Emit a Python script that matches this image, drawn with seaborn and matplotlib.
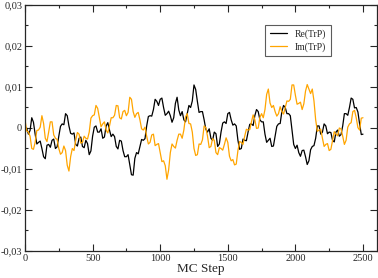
import numpy as np
import pandas as pd
import matplotlib
matplotlib.use('Agg')
import matplotlib.pyplot as plt
import seaborn as sns
from matplotlib.ticker import MultipleLocator, FuncFormatter

# MC steps (read every 12.5 steps)
steps = [i * 12.5 for i in range(201)]

# Re(TrP), units of 1e-3
re_trp = [-1.0, 0.0, -1.5, -0.6, 2.5, 1.4, -1.5, -3.9, -3.5, -3.2,
          -5.0, -7.0, -7.5, -4.2, -4.0, -4.7, -3.0, -2.7, -5.0, -4.6,
          -2.0, 0.4, 1.0, 0.8, 3.5, 3.0, 0.5, -1.3, -1.5, -1.2,
          -4.0, -4.4, -2.5, -2.2, -4.5, -4.8, -3.0, -3.8, -6.5, -5.6,
          -2.0, 0.2, 0.5, -1.0, -1.0, -0.2, -2.5, -2.2, 0.5, 1.3,
          -0.5, -2.1, -1.5, -2.1, -4.5, -5.1, -3.0, -3.2, -5.5, -7.0,
          -7.0, -6.5, -9.0, -11.4, -11.5, -7.4, -6.0, -6.3, -4.5, -2.8,
          -3.0, -2.6, 0.5, 2.8, 3.0, 2.9, 4.5, 7.0, 6.5, 5.5,
          7.0, 7.3, 5.0, 3.1, 3.5, 4.1, 3.0, 1.4, 2.5, 6.0,
          7.5, 4.4, 3.0, 4.0, 2.0, 1.5, 3.5, 5.5, 5.0, 6.6,
          10.5, 9.4, 6.5, 3.8, 4.0, 4.0, 2.0, -0.3, -1.0, -0.2,
          -2.5, -3.0, -1.0, -1.4, -4.5, -3.9, -1.0, 1.2, 1.5, 1.1,
          3.5, 3.8, 2.0, 0.7, 1.0, 0.5, -3.0, -5.2, -5.0, -2.7,
          -3.0, -3.1, -1.0, 0.9, 1.0, 0.6, 3.0, 4.5, 4.0, 2.0,
          1.5, 1.5, -1.5, -3.5, -3.0, -2.5, -4.5, -4.4, -2.0, 0.4,
          1.0, 1.1, 4.0, 5.5, 5.0, 3.5, 3.5, 3.0, -0.5, -4.0,
          -5.0, -4.2, -6.0, -6.9, -5.5, -5.4, -7.0, -8.9, -8.0, -5.3,
          -4.5, -4.3, -2.5, 0.5, 0.5, -1.5, -1.0, 1.0, 0.5, -1.4,
          -1.0, -1.1, -3.0, -3.4, -1.0, -0.5, -2.0, -1.6, 0.5, 3.5,
          3.5, 3.1, 5.0, 7.3, 7.0, 4.9, 5.0, 3.9, 1.0, -1.6,
          -1.5]

# Im(TrP), units of 1e-3
im_trp = [2.0, -0.7, -1.0, -2.0, -5.0, -5.2, -3.5, -0.6, -0.5, 0.2,
          3.0, 1.1, -2.5, -3.3, -1.0, 1.5, 1.5, -1.7, -2.5, -2.8,
          -5.0, -6.4, -6.0, -4.4, -5.5, -9.1, -10.5, -7.0, -5.0, -5.5,
          -3.0, -1.1, -1.5, -3.7, -3.5, -2.0, -2.5, -2.7, -1.0, 2.4,
          3.0, 3.2, 5.5, 4.8, 2.5, 0.3, 1.0, 1.5, -0.5, -1.2,
          0.5, 2.5, 2.5, 3.1, 5.5, 5.4, 2.5, 2.2, 4.0, 4.3,
          3.0, 3.8, 7.5, 7.0, 4.0, 2.6, 3.5, 3.8, 2.0, -0.2,
          -0.5, 0.2, -2.0, -3.9, -3.5, -1.7, -1.5, -4.3, -4.0, -3.8,
          -6.0, -8.2, -8.0, -9.2, -12.5, -10.2, -6.0, -3.9, -4.5, -4.9,
          -3.0, -1.5, -1.5, -2.5, -0.5, 2.7, 3.5, 1.1, 1.0, -1.0,
          -5.0, -6.7, -6.5, -3.9, -4.0, -2.9, 0.5, 0.1, -2.0, -4.8,
          -4.5, -2.6, -3.0, -6.0, -6.5, -4.8, -5.0, -5.4, -4.0, -2.4,
          -3.5, -6.9, -8.0, -7.7, -9.0, -8.8, -5.5, -3.3, -3.5, -4.0,
          -2.0, -0.3, -0.5, -0.4, 1.5, 3.2, 2.0, -0.1, 0.0, 2.6,
          3.5, 2.5, 4.5, 8.2, 9.5, 6.1, 5.0, 5.5, 4.0, 2.9,
          3.5, 5.2, 4.0, 3.4, 5.0, 6.6, 6.5, 7.0, 10.5, 10.5,
          8.0, 5.8, 6.0, 6.3, 4.5, 5.9, 9.0, 10.6, 9.5, 8.4,
          9.5, 6.6, 2.0, -0.8, -0.5, -0.3, -2.5, -4.5, -4.0, -3.8,
          -5.5, -5.2, -3.0, -0.9, -1.5, -1.9, 0.0, -0.2, -2.0, -4.0,
          -3.0, 0.2, 1.0, 1.3, 4.0, 4.3, 2.5, 0.1, -0.5, 2.4,
          2.5]

df = pd.DataFrame({
    'MC Step': steps * 2,
    'value': [v * 1e-3 for v in re_trp] + [v * 1e-3 for v in im_trp],
    'serie': ['Re(TrP)'] * len(steps) + ['Im(TrP)'] * len(steps),
})

sns.set_style('ticks')
plt.rcParams['font.family'] = ['Liberation Serif', 'DejaVu Serif']

fig = plt.figure(figsize=(3.78, 2.78), dpi=100)
ax = fig.add_axes([25 / 378, 27 / 278, 351.5 / 378, 246 / 278])

sns.lineplot(data=df, x='MC Step', y='value', hue='serie',
             palette={'Re(TrP)': 'black', 'Im(TrP)': '#ffa500'},
             linewidth=0.9, ax=ax)

ax.set_xlim(0, 2600)
ax.set_ylim(-0.03, 0.03)
ax.xaxis.set_major_locator(MultipleLocator(500))
ax.xaxis.set_minor_locator(MultipleLocator(250))
ax.yaxis.set_major_locator(MultipleLocator(0.01))
ax.yaxis.set_minor_locator(MultipleLocator(0.005))
ax.yaxis.set_major_formatter(FuncFormatter(lambda v, p: '0' if abs(v) < 1e-9 else f'{v:.2f}'.replace('.', ',')))
ax.xaxis.set_major_formatter(FuncFormatter(lambda v, p: f'{v:.0f}'))
ax.tick_params(which='both', direction='in', top=True, right=True, labelsize=7.5, pad=2)
ax.tick_params(which='major', length=5, width=0.8)
ax.tick_params(which='minor', length=2.5, width=0.8)
for s in ax.spines.values():
    s.set_linewidth(0.9)

ax.set_xlabel('MC Step', fontsize=9.5, labelpad=0)
ax.set_ylabel('')

leg = ax.legend(loc='upper right', bbox_to_anchor=(0.885, 0.94), fontsize=7,
                handlelength=1.8, handletextpad=0.8, frameon=True, fancybox=False,
                borderpad=0.5, labelspacing=0.3)
leg.get_frame().set_edgecolor('#333333')
leg.get_frame().set_linewidth(0.8)

plt.savefig('out.png', dpi=100)
